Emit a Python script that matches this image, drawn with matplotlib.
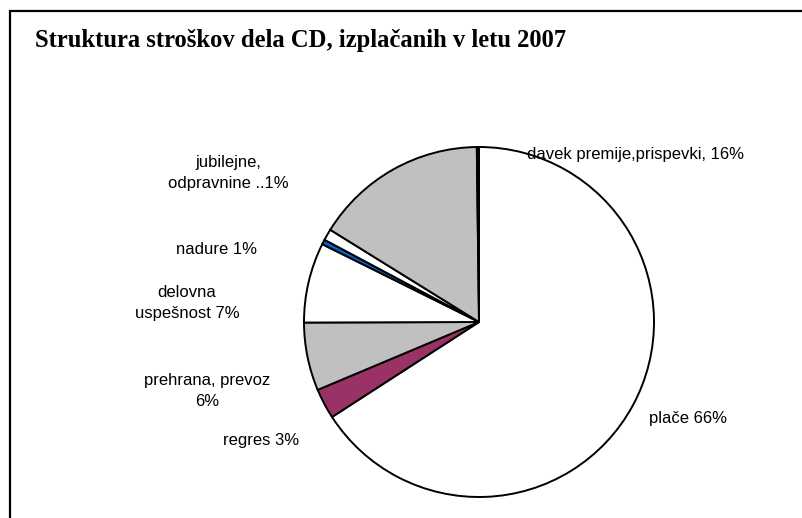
import numpy as np
import matplotlib.pyplot as plt
from matplotlib.patches import Rectangle

# data (shares, clockwise from top)
categories = ['plače 66%', 'regres 3%', 'prehrana, prevoz\n6%', 'delovna\nuspešnost 7%',
              'nadure 1%', 'jubilejne,\nodpravnine ..1%', 'davek premije,prispevki, 16%', '']
shares = [66.0, 2.8, 6.3, 7.4, 0.45, 1.05, 16.0, 0.2]
colors = ['#FFFFFF', '#993366', '#C0C0C0', '#FFFFFF', '#0066CC', '#FFFFFF', '#C0C0C0', '#000000']

W, H = 803, 518
fig = plt.figure(figsize=(W/100, H/100), dpi=100)

# outer chart frame (right/bottom run off the picture)
fig.patches.append(Rectangle((10.5/W, -0.05), 1.1, 1 - 10.5/H + 0.05, transform=fig.transFigure,
                             fill=False, edgecolor='black', linewidth=1.6, figure=fig))

cx, cy, r = 479, 322, 175
ax = fig.add_axes([(cx - r)/W, (H - cy - r)/H, 2*r/W, 2*r/H])
ax.pie(shares, colors=colors, startangle=90, counterclock=False,
       wedgeprops=dict(edgecolor='black', linewidth=1.4))
ax.set_xlim(-1, 1)
ax.set_ylim(-1, 1)
ax.axis('off')

fig.text(35/W, 1 - 47/H, 'Struktura stroškov dela CD, izplačanih v letu 2007',
         family='Liberation Serif', weight='bold', fontsize=17.7, va='baseline', ha='left')

# label positions in pixels (x, y from top)
label_pos = [(688, 418), (261, 440), (207, 391), (187, 303), (217, 250), (228, 173), (636, 155)]
for lab, (x, y) in zip(categories, label_pos):
    fig.text(x/W, 1 - y/H, lab, family='Liberation Sans', fontsize=12,
             ha='center', va='center', linespacing=1.5)

fig.savefig('out.png', dpi=100)
